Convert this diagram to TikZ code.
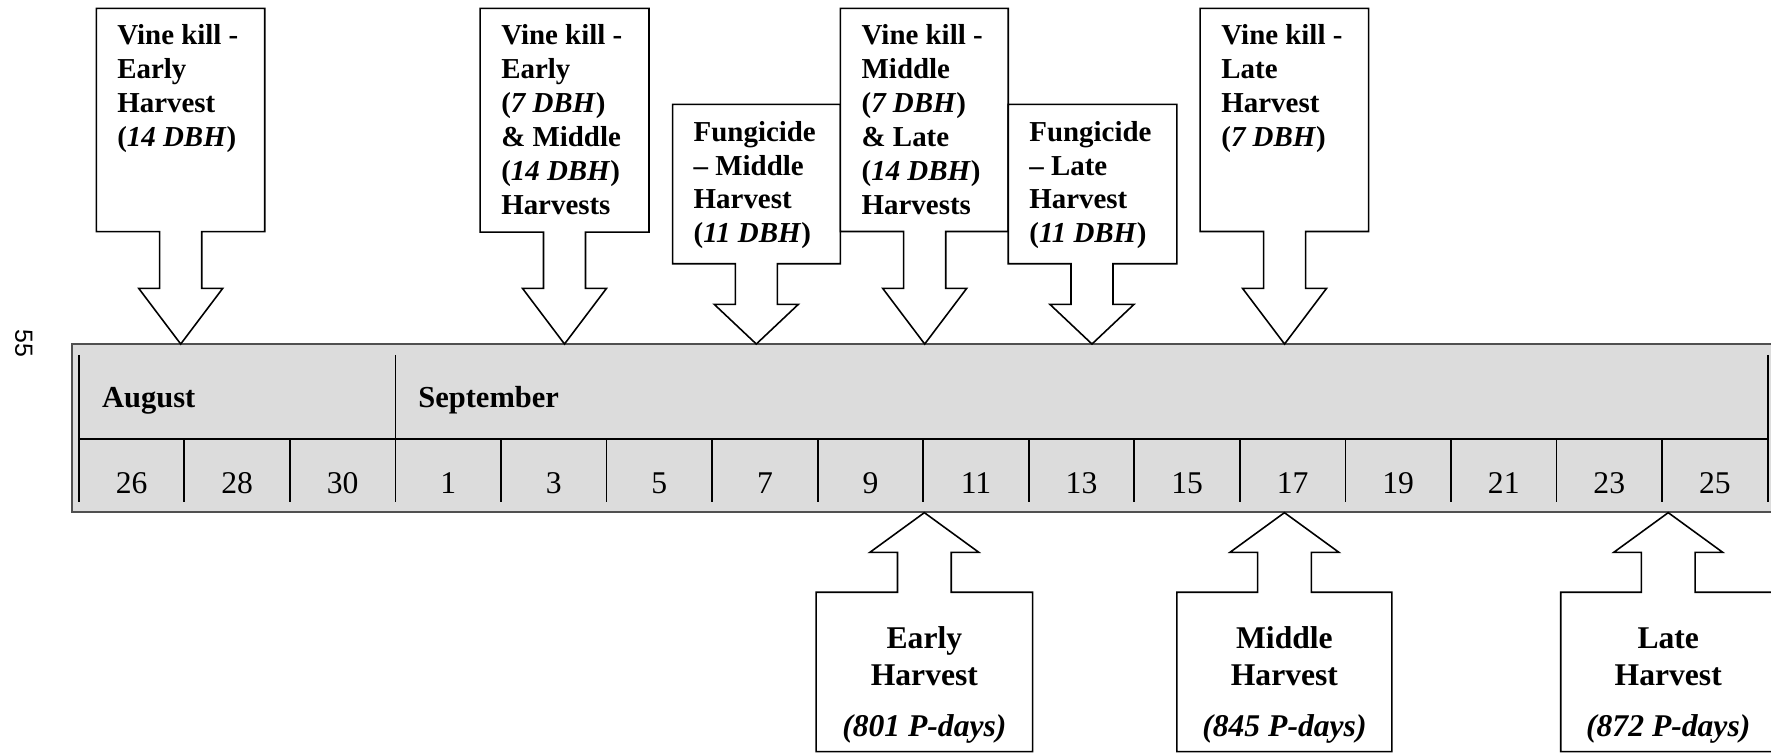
\documentclass[tikz,border=0pt]{standalone}
\usepackage{fontspec}
\setmainfont{Liberation Serif}
\newfontfamily\pagefont{Liberation Sans}
\definecolor{tlfill}{HTML}{DCDCDC}
\definecolor{tlborder}{HTML}{505050}
\newcommand{\topfont}{\fontsize{12.8}{15}\selectfont\bfseries}
\newcommand{\botfont}{\fontsize{14}{16}\selectfont\bfseries}
\newcommand{\monthfont}{\fontsize{13.5}{16}\selectfont\bfseries}
\newcommand{\dayfont}{\fontsize{14}{16}\selectfont}
\tikzset{
  callout/.style={draw=black, fill=white, line width=0.7pt, line join=miter},
  boxtext/.style={anchor=base west, inner sep=0pt, font=\topfont},
  bottext/.style={anchor=base, inner sep=0pt, font=\botfont},
  monthtext/.style={anchor=base west, inner sep=0pt, font=\monthfont},
  daytext/.style={anchor=base, inner sep=0pt, font=\dayfont},
  tlframe/.style={fill=tlfill, draw=tlborder, line width=1pt},
  tlline/.style={draw=black, line width=0.8pt},
}
% down callout: #1 left, #2 right, #3 top, #4 bottom, #5 centre x, #6 wing y, #7 name
\newcommand{\downcallout}[7]{%
  \coordinate (#7) at (#5,304.6);
  \draw[callout] (#1,#3) -- (#2,#3) -- (#2,#4) -- ({#5+18.6},#4) -- ({#5+18.6},#6)
    -- ({#5+37.2},#6) -- (#7) -- ({#5-37.2},#6) -- ({#5-18.6},#6)
    -- ({#5-18.6},#4) -- (#1,#4) -- cycle;}
% up callout: #1 left, #2 right, #3 centre x, #4 name
\newcommand{\upcallout}[4]{%
  \coordinate (#4) at (#3,453.9);
  \draw[callout] (#1,665.5) -- (#1,524.4) -- ({#3-23.8},524.4) -- ({#3-23.8},489)
    -- ({#3-48.2},489) -- (#4) -- ({#3+48.2},489) -- ({#3+23.8},489)
    -- ({#3+23.8},524.4) -- (#2,524.4) -- (#2,665.5) -- cycle;}
\begin{document}
\begin{tikzpicture}[x={(0.5pt,0)}, y={(0,-0.5pt)}]
\path[use as bounding box] (0,0) rectangle (1568,667);
\clip (0,0) rectangle (1568,667);

% page number
\node[font=\pagefont\fontsize{11}{13}\selectfont, rotate=-90] (pg) at (21,304) {55};

% timeline
\draw[tlframe] (63.5,304.8) rectangle (1620,453);
\draw[tlline] (69.8,314.3) -- (69.8,444.2);
\draw[tlline] (1565,314.3) -- (1565,444.2);
\draw[tlline] (69.8,389) -- (1565,389);
\draw[tlline] (350.15,314.3) -- (350.15,444.2);
\foreach \k in {1,2,4,5,6,7,8,9,10,11,12,13,14,15}
  \draw[tlline] ({69.8+93.45*\k},389) -- ({69.8+93.45*\k},444.2);
\node[monthtext] (aug) at (90,360.6) {August};
\node[monthtext] (sep) at (370,360.6) {September};
\foreach \d [count=\i from 0] in {26,28,30,1,3,5,7,9,11,13,15,17,19,21,23,25}
  \node[daytext] (day\i) at ({69.8+93.45*(\i+0.5)},436.8) {\d};

% top callouts
\downcallout{85.4}{234.4}{7.4}{205.1}{160}{255.3}{tipA}
\downcallout{425.1}{574.6}{7.4}{205.5}{499.8}{255.3}{tipB}
\downcallout{595.5}{744}{92.4}{233.5}{669.6}{269.5}{tipC}
\downcallout{744}{892.7}{7.4}{205}{818.7}{255.3}{tipD}
\downcallout{892.7}{1042}{92.4}{233.5}{966.8}{269.5}{tipE}
\downcallout{1062.6}{1211.7}{7.4}{205}{1137.3}{255.3}{tipF}

\node[boxtext] (tA) at (103.5,39.8) {\begin{tabular}[t]{@{}l@{}}Vine kill -\\Early\\Harvest\\(\textit{14 DBH})\end{tabular}};
\node[boxtext] (tB) at (443.4,39.8) {\begin{tabular}[t]{@{}l@{}}Vine kill -\\Early\\(\textit{7 DBH})\\\& Middle\\(\textit{14 DBH})\\Harvests\end{tabular}};
\node[boxtext] (tC) at (613.8,125) {\begin{tabular}[t]{@{}l@{}}Fungicide\\– Middle\\Harvest\\(\textit{11 DBH})\end{tabular}};
\node[boxtext] (tD) at (762.5,39.8) {\begin{tabular}[t]{@{}l@{}}Vine kill -\\Middle\\(\textit{7 DBH})\\\& Late\\(\textit{14 DBH})\\Harvests\end{tabular}};
\node[boxtext] (tE) at (911,125) {\begin{tabular}[t]{@{}l@{}}Fungicide\\– Late\\Harvest\\(\textit{11 DBH})\end{tabular}};
\node[boxtext] (tF) at (1081,39.8) {\begin{tabular}[t]{@{}l@{}}Vine kill -\\Late\\Harvest\\(\textit{7 DBH})\end{tabular}};

% bottom callouts
\upcallout{722.5}{914.3}{818.4}{tipG}
\upcallout{1042}{1232.3}{1137.2}{tipH}
\upcallout{1381.8}{1572.6}{1477}{tipI}

\node[bottext] (g1) at (818.4,574) {Early};
\node[bottext] (g2) at (818.4,606.5) {Harvest};
\node[bottext] (g3) at (818.4,652.2) {\itshape (801 P-days)};
\node[bottext] (h1) at (1137.2,574) {Middle};
\node[bottext] (h2) at (1137.2,606.5) {Harvest};
\node[bottext] (h3) at (1137.2,652.2) {\itshape (845 P-days)};
\node[bottext] (i1) at (1477,574) {Late};
\node[bottext] (i2) at (1477,606.5) {Harvest};
\node[bottext] (i3) at (1477,652.2) {\itshape (872 P-days)};
\end{tikzpicture}
\end{document}
